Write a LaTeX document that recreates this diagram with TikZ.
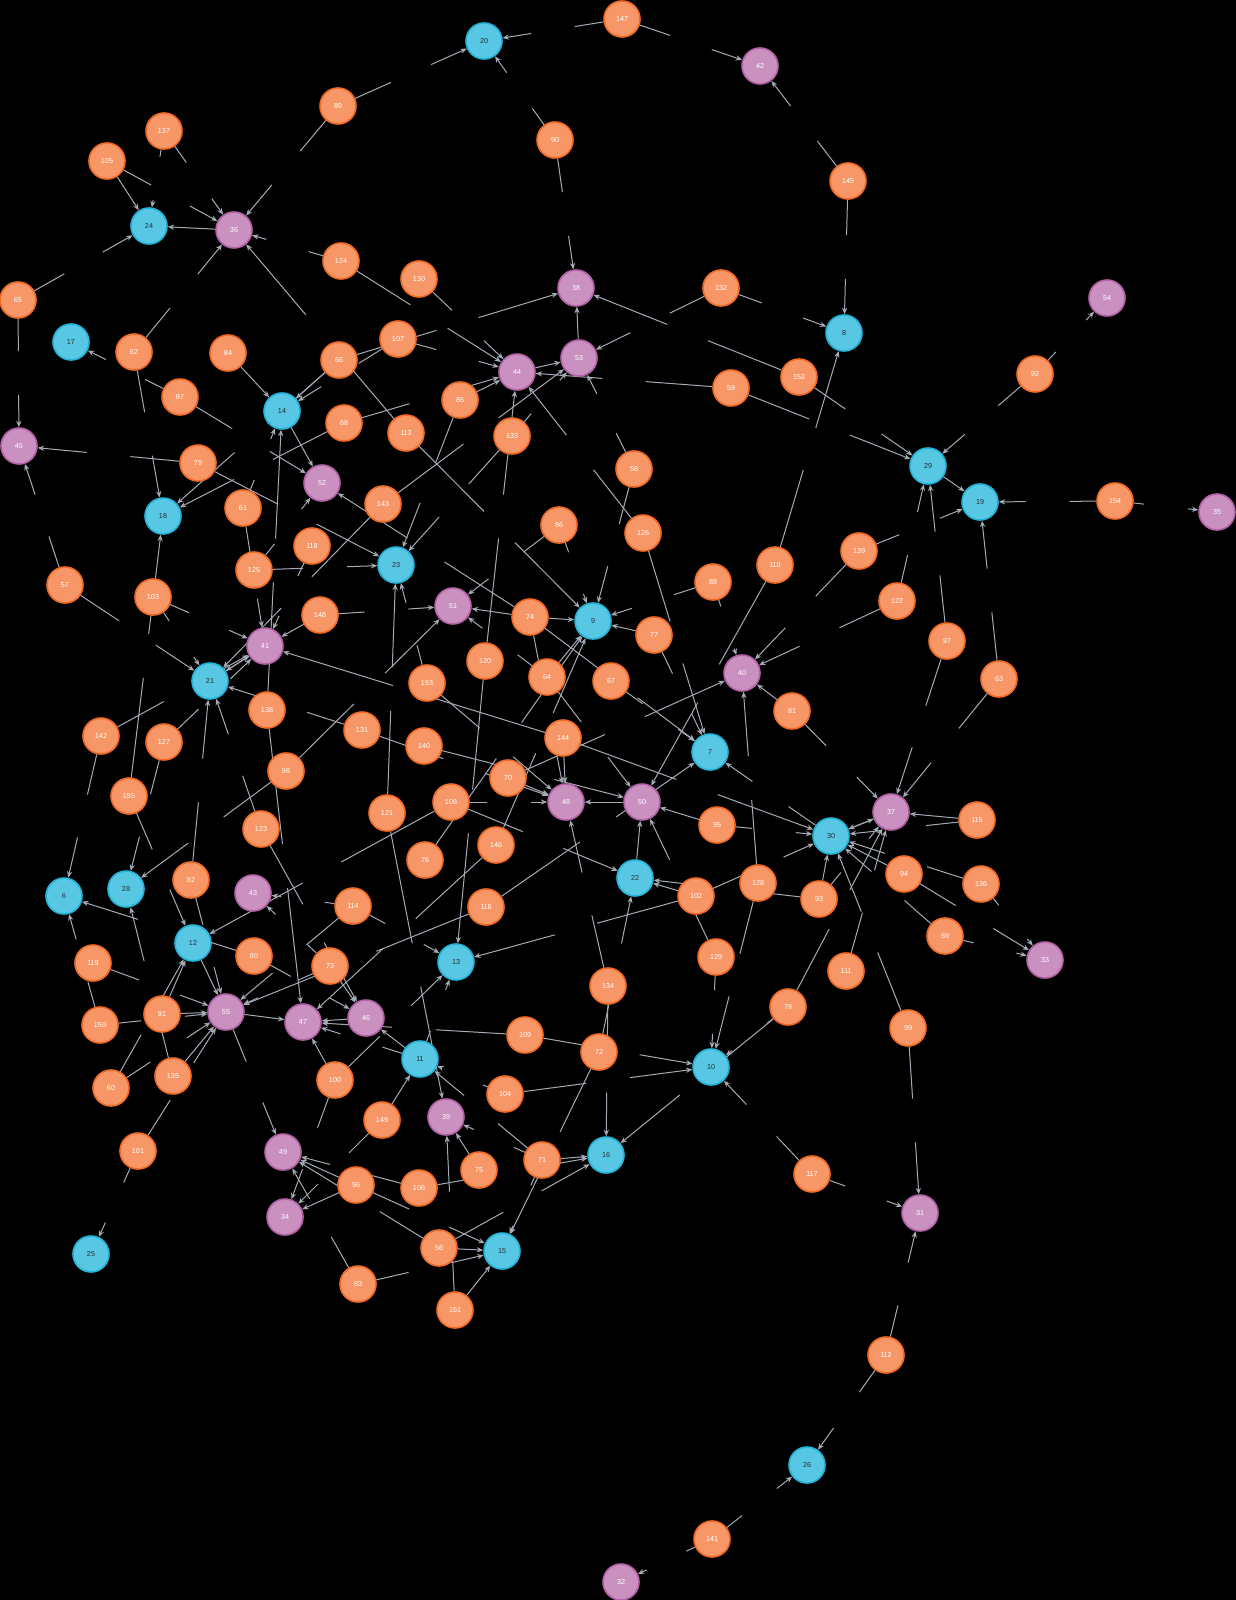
\documentclass[tikz,border=0pt]{standalone}
\usepackage{fontspec}
\setmainfont{Liberation Sans}
\usetikzlibrary{calc,arrows.meta}
\definecolor{orf}{HTML}{F79767}
\definecolor{ord}{HTML}{F36924}
\definecolor{blf}{HTML}{57C7E3}
\definecolor{bld}{HTML}{23B3D7}
\definecolor{prf}{HTML}{C990C0}
\definecolor{prd}{HTML}{B261A5}
\definecolor{edg}{HTML}{A5ABB6}
\definecolor{btx}{HTML}{2A2C34}
\pgfdeclarelayer{back}
\pgfdeclarelayer{bg}
\pgfsetlayers{back,bg,main}
\tikzset{
  gnode/.style={circle,minimum size=18pt,inner sep=0pt,line width=0.8pt,font=\fontsize{3.6}{4}\selectfont},
  ornode/.style={gnode,fill=orf,draw=ord,text=white},
  blnode/.style={gnode,fill=blf,draw=bld,text=btx},
  prnode/.style={gnode,fill=prf,draw=prd,text=white},
  edgeln/.style={draw=edg,line width=0.5pt},
  edgear/.style={draw=edg,line width=0.5pt,-{Stealth[length=3.2pt,width=2.6pt]}}
}
\newcommand\ee[2]{%
  \path let \p1=($(n#2)-(n#1)$) in \pgfextra{\pgfmathparse{veclen(\x1,\y1)}\xdef\edistv{\pgfmathresult}};
  \ifdim\edistv pt>45pt
    \draw[edgeln] (n#1) -- ($(n#1)!0.5!(n#2)!11pt!(n#1)$);
    \draw[edgear] ($(n#1)!0.5!(n#2)!11pt!(n#2)$) -- (n#2);
  \else
    \draw[edgear] (n#1) -- (n#2);
  \fi
}
\begin{document}
\begin{tikzpicture}[x=0.5pt,y=-0.5pt]
\begin{pgfonlayer}{back}
\fill[black] (0,0) rectangle (1236,1600);
\end{pgfonlayer}
\useasboundingbox (0,0) rectangle (1236,1600);
% nodes
\node[ornode] (n147) at (622,19) {147};
\node[blnode] (n20) at (484,41) {20};
\node[prnode] (n42) at (760,66) {42};
\node[ornode] (n89) at (338,106) {89};
\node[ornode] (n137) at (164,131) {137};
\node[ornode] (n105) at (107,161) {105};
\node[ornode] (n90) at (555,140) {90};
\node[ornode] (n145) at (848,181) {145};
\node[blnode] (n24) at (149,226) {24};
\node[prnode] (n36) at (234,230) {36};
\node[ornode] (n124) at (341,261) {124};
\node[ornode] (n130) at (419,279) {130};
\node[prnode] (n38) at (576,288) {38};
\node[ornode] (n132) at (721,288) {132};
\node[prnode] (n54) at (1107,298) {54};
\node[ornode] (n65) at (18,300) {65};
\node[blnode] (n8) at (844,333) {8};
\node[blnode] (n17) at (71,342) {17};
\node[ornode] (n62) at (134,352) {62};
\node[ornode] (n84) at (228,353) {84};
\node[ornode] (n107) at (398,339) {107};
\node[ornode] (n66) at (339,360) {66};
\node[prnode] (n53) at (579,358) {53};
\node[prnode] (n44) at (517,372) {44};
\node[ornode] (n152) at (799,377) {152};
\node[ornode] (n59) at (731,388) {59};
\node[ornode] (n92) at (1035,374) {92};
\node[ornode] (n87) at (180,397) {87};
\node[blnode] (n14) at (282,411) {14};
\node[ornode] (n85) at (460,400) {85};
\node[ornode] (n113) at (406,433) {113};
\node[ornode] (n68) at (344,423) {68};
\node[ornode] (n133) at (512,436) {133};
\node[prnode] (n45) at (19,446) {45};
\node[ornode] (n79) at (198,463) {79};
\node[blnode] (n29) at (928,466) {29};
\node[ornode] (n58) at (634,469) {58};
\node[prnode] (n52) at (322,483) {52};
\node[blnode] (n19) at (980,502) {19};
\node[ornode] (n154) at (1115,501) {154};
\node[prnode] (n35) at (1217,512) {35};
\node[blnode] (n18) at (163,516) {18};
\node[ornode] (n143) at (383,504) {143};
\node[ornode] (n61) at (243,508) {61};
\node[ornode] (n86) at (559,525) {86};
\node[ornode] (n126) at (643,533) {126};
\node[ornode] (n110) at (775,565) {110};
\node[ornode] (n139) at (859,551) {139};
\node[ornode] (n118) at (312,546) {118};
\node[ornode] (n125) at (254,570) {125};
\node[blnode] (n23) at (396,565) {23};
\node[ornode] (n57) at (65,585) {57};
\node[ornode] (n103) at (153,597) {103};
\node[prnode] (n51) at (453,606) {51};
\node[ornode] (n148) at (320,615) {148};
\node[ornode] (n74) at (530,617) {74};
\node[blnode] (n9) at (593,621) {9};
\node[ornode] (n88) at (713,582) {88};
\node[ornode] (n122) at (897,601) {122};
\node[ornode] (n77) at (654,635) {77};
\node[prnode] (n41) at (265,646) {41};
\node[ornode] (n97) at (947,641) {97};
\node[prnode] (n40) at (742,673) {40};
\node[ornode] (n120) at (485,661) {120};
\node[ornode] (n64) at (547,677) {64};
\node[ornode] (n153) at (427,683) {153};
\node[ornode] (n67) at (611,681) {67};
\node[ornode] (n63) at (999,679) {63};
\node[blnode] (n21) at (210,681) {21};
\node[ornode] (n138) at (267,710) {138};
\node[ornode] (n81) at (792,711) {81};
\node[ornode] (n142) at (101,736) {142};
\node[ornode] (n127) at (164,742) {127};
\node[ornode] (n131) at (362,730) {131};
\node[ornode] (n140) at (424,746) {140};
\node[ornode] (n144) at (563,738) {144};
\node[blnode] (n7) at (710,752) {7};
\node[ornode] (n98) at (286,771) {98};
\node[ornode] (n155) at (129,796) {155};
\node[ornode] (n70) at (508,778) {70};
\node[ornode] (n108) at (451,802) {108};
\node[prnode] (n48) at (566,802) {48};
\node[prnode] (n50) at (642,802) {50};
\node[ornode] (n121) at (387,813) {121};
\node[prnode] (n37) at (891,812) {37};
\node[ornode] (n115) at (977,820) {115};
\node[ornode] (n95) at (717,825) {95};
\node[blnode] (n30) at (831,836) {30};
\node[ornode] (n123) at (261,829) {123};
\node[ornode] (n146) at (496,845) {146};
\node[ornode] (n76) at (425,860) {76};
\node[ornode] (n94) at (904,874) {94};
\node[blnode] (n22) at (635,878) {22};
\node[ornode] (n136) at (981,884) {136};
\node[ornode] (n82) at (191,880) {82};
\node[prnode] (n43) at (253,893) {43};
\node[blnode] (n28) at (126,889) {28};
\node[blnode] (n6) at (64,896) {6};
\node[ornode] (n102) at (696,896) {102};
\node[ornode] (n128) at (758,883) {128};
\node[ornode] (n93) at (819,899) {93};
\node[ornode] (n114) at (353,906) {114};
\node[ornode] (n116) at (486,907) {116};
\node[blnode] (n12) at (193,943) {12};
\node[ornode] (n80) at (254,956) {80};
\node[ornode] (n73) at (330,966) {73};
\node[ornode] (n69) at (945,936) {69};
\node[blnode] (n13) at (456,962) {13};
\node[prnode] (n33) at (1045,960) {33};
\node[ornode] (n129) at (716,957) {129};
\node[ornode] (n119) at (93,963) {119};
\node[ornode] (n134) at (608,986) {134};
\node[ornode] (n111) at (846,971) {111};
\node[ornode] (n91) at (162,1014) {91};
\node[prnode] (n55) at (226,1012) {55};
\node[prnode] (n47) at (303,1022) {47};
\node[prnode] (n46) at (366,1018) {46};
\node[ornode] (n150) at (100,1025) {150};
\node[ornode] (n78) at (788,1007) {78};
\node[ornode] (n99) at (908,1028) {99};
\node[ornode] (n109) at (525,1035) {109};
\node[ornode] (n72) at (599,1052) {72};
\node[blnode] (n11) at (420,1059) {11};
\node[blnode] (n10) at (711,1067) {10};
\node[ornode] (n135) at (173,1076) {135};
\node[ornode] (n60) at (111,1088) {60};
\node[ornode] (n100) at (335,1080) {100};
\node[ornode] (n104) at (505,1094) {104};
\node[ornode] (n149) at (382,1120) {149};
\node[prnode] (n39) at (446,1117) {39};
\node[ornode] (n101) at (138,1151) {101};
\node[prnode] (n49) at (283,1152) {49};
\node[ornode] (n75) at (479,1170) {75};
\node[ornode] (n71) at (542,1160) {71};
\node[blnode] (n16) at (606,1155) {16};
\node[ornode] (n96) at (356,1185) {96};
\node[ornode] (n106) at (419,1188) {106};
\node[ornode] (n117) at (812,1174) {117};
\node[prnode] (n31) at (920,1213) {31};
\node[prnode] (n34) at (285,1217) {34};
\node[ornode] (n56) at (439,1248) {56};
\node[blnode] (n15) at (502,1251) {15};
\node[blnode] (n25) at (91,1254) {25};
\node[ornode] (n83) at (358,1284) {83};
\node[ornode] (n151) at (455,1310) {151};
\node[ornode] (n112) at (886,1355) {112};
\node[blnode] (n26) at (807,1465) {26};
\node[ornode] (n141) at (712,1539) {141};
\node[prnode] (n32) at (621,1582) {32};
% edges
\begin{pgfonlayer}{bg}
\ee{89}{20}\ee{89}{36}\ee{137}{36}\ee{137}{24}\ee{105}{36}\ee{105}{24}\ee{36}{24}\ee{65}{24}
\ee{65}{45}\ee{62}{36}\ee{113}{36}\ee{147}{20}\ee{147}{42}\ee{145}{42}\ee{145}{8}\ee{90}{20}
\ee{90}{38}\ee{132}{53}\ee{132}{8}\ee{152}{38}\ee{66}{38}\ee{107}{14}\ee{66}{14}\ee{66}{18}
\ee{87}{17}\ee{62}{18}\ee{84}{14}\ee{87}{52}\ee{68}{44}\ee{68}{18}\ee{79}{45}\ee{79}{23}
\ee{125}{23}\ee{14}{52}\ee{125}{52}\ee{61}{14}\ee{138}{14}\ee{61}{41}\ee{118}{41}\ee{148}{51}
\ee{148}{41}\ee{21}{41}\ee{41}{21}\ee{103}{41}\ee{57}{21}\ee{155}{18}\ee{103}{21}\ee{142}{41}
\ee{142}{6}\ee{127}{41}\ee{127}{28}\ee{82}{21}\ee{123}{21}\ee{131}{21}\ee{138}{47}\ee{98}{51}
\ee{98}{28}\ee{144}{41}\ee{143}{21}\ee{143}{53}\ee{133}{23}\ee{85}{23}\ee{121}{23}\ee{153}{23}
\ee{74}{52}\ee{86}{51}\ee{74}{51}\ee{113}{9}\ee{58}{9}\ee{88}{9}\ee{77}{9}\ee{74}{9}
\ee{64}{9}\ee{146}{9}\ee{126}{44}\ee{126}{7}\ee{58}{53}\ee{110}{8}\ee{110}{50}\ee{139}{40}
\ee{139}{19}\ee{122}{29}\ee{122}{40}\ee{97}{29}\ee{97}{37}\ee{63}{19}\ee{63}{37}\ee{154}{19}
\ee{154}{35}\ee{29}{19}\ee{59}{29}\ee{152}{29}\ee{92}{29}\ee{92}{54}\ee{130}{44}\ee{124}{44}
\ee{124}{36}\ee{107}{44}\ee{85}{44}\ee{120}{44}\ee{133}{53}\ee{59}{44}\ee{44}{53}\ee{53}{38}
\ee{57}{45}\ee{120}{13}\ee{64}{51}\ee{64}{50}\ee{74}{48}\ee{67}{7}\ee{74}{7}\ee{77}{7}
\ee{88}{40}\ee{81}{37}\ee{81}{40}\ee{128}{40}\ee{70}{40}\ee{30}{7}\ee{144}{30}\ee{95}{30}
\ee{95}{50}\ee{37}{30}\ee{30}{37}\ee{94}{30}\ee{69}{30}\ee{99}{30}\ee{78}{37}\ee{111}{37}
\ee{93}{37}\ee{93}{30}\ee{115}{30}\ee{115}{37}\ee{136}{30}\ee{136}{33}\ee{94}{33}\ee{69}{33}
\ee{99}{31}\ee{117}{31}\ee{112}{31}\ee{117}{10}\ee{78}{10}\ee{128}{10}\ee{129}{10}\ee{109}{10}
\ee{104}{10}\ee{78}{16}\ee{71}{16}\ee{134}{16}\ee{56}{16}\ee{134}{48}\ee{72}{22}\ee{72}{15}
\ee{109}{47}\ee{102}{22}\ee{108}{22}\ee{22}{50}\ee{129}{50}\ee{102}{13}\ee{102}{30}\ee{93}{22}
\ee{108}{48}\ee{50}{48}\ee{70}{48}\ee{153}{48}\ee{144}{48}\ee{140}{50}\ee{116}{7}\ee{116}{55}
\ee{114}{13}\ee{11}{13}\ee{100}{13}\ee{104}{11}\ee{71}{11}\ee{71}{39}\ee{75}{39}\ee{11}{47}
\ee{11}{46}\ee{149}{11}\ee{100}{47}\ee{100}{34}\ee{121}{39}\ee{151}{39}\ee{106}{49}\ee{56}{49}
\ee{96}{34}\ee{96}{49}\ee{96}{15}\ee{71}{15}\ee{56}{15}\ee{151}{15}\ee{83}{15}\ee{83}{49}
\ee{149}{34}\ee{55}{49}\ee{91}{55}\ee{12}{55}\ee{80}{46}\ee{73}{55}\ee{73}{46}\ee{123}{46}
\ee{114}{43}\ee{114}{55}\ee{135}{55}\ee{60}{55}\ee{60}{12}\ee{91}{12}\ee{150}{55}\ee{150}{6}
\ee{119}{55}\ee{80}{6}\ee{135}{28}\ee{82}{55}\ee{155}{12}\ee{108}{12}\ee{73}{43}\ee{55}{47}
\ee{146}{47}\ee{46}{47}\ee{131}{48}\ee{86}{9}\ee{76}{9}\ee{101}{55}\ee{101}{25}\ee{112}{26}
\ee{141}{26}\ee{141}{32}\ee{106}{16}
\end{pgfonlayer}
\end{tikzpicture}
\end{document}
